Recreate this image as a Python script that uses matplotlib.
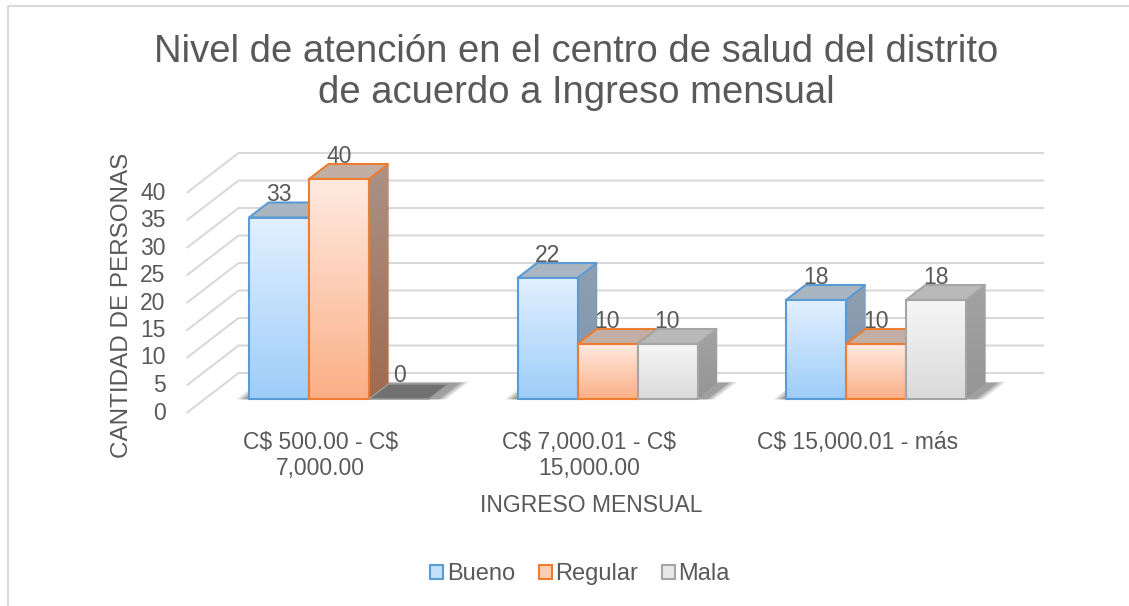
import numpy as np
import matplotlib
matplotlib.use('Agg')
import matplotlib.pyplot as plt
from matplotlib.patches import Polygon, Patch
from matplotlib.lines import Line2D
from matplotlib.colors import LinearSegmentedColormap

# data
categories = ['C$ 500.00 - C$\n7,000.00', 'C$ 7,000.01 - C$\n15,000.00', 'C$ 15,000.01 - más']
series = ['Bueno', 'Regular', 'Mala']
bueno = [33, 22, 18]
regular = [40, 10, 10]
mala = [0, 10, 18]
yticks = [0, 5, 10, 15, 20, 25, 30, 35, 40]

# face colours per series: front gradient, lid, side gradient, outline
styles = {
    'Bueno':   dict(top='#e2f0ff', bot='#9dcdf9', edge='#5b9bd5', lid='#a9b5c1',
                    s_top='#8f9fb0', s_bot='#7b96b1', leg='#c4e1fb'),
    'Regular': dict(top='#ffeae0', bot='#fbaf86', edge='#ed7d31', lid='#c2aea4',
                    s_top='#ab9288', s_bot='#9e6b50', leg='#fdcdb2'),
    'Mala':    dict(top='#f6f6f6', bot='#dadada', edge='#a5a5a5', lid='#b9b9b9',
                    s_top='#a3a3a3', s_bot='#959595', leg='#e8e8e8'),
}
zero_lid = '#717171'

TXT = '#595959'
GRID = '#d9d9d9'
plt.rcParams['font.family'] = ['Liberation Sans', 'DejaVu Sans']
plt.rcParams['text.parse_math'] = False
FS = 16.5

W, H = 1129, 606
PX_X, PX_Y = 268.5, 5.5          # pixels per category / per value unit
fig = plt.figure(figsize=(W / 100, H / 100), dpi=100)
ax = fig.add_axes([0, 0, 1, 1])
xlim = (-320.8 / PX_X, (W - 320.8) / PX_X)
ylim = (-(H - 413) / PX_Y, 413 / PX_Y)
ax.axis('off')

# oblique depth: t=0 front of floor, t=1 back wall
DX, DY = 52 / PX_X, 40 / PX_Y
TF, TB = 0.35, 0.725             # bar front / back depth
BW = 60 / PX_X
X0, X1 = -0.5, 2.5


def proj(x, v, t):
    return (x + DX * t, v + DY * t)


def grad_face(pts, c_top, c_bot, z):
    poly = Polygon(pts, closed=True, facecolor='none', edgecolor='none', zorder=z)
    ax.add_patch(poly)
    xs = [p[0] for p in pts]
    ys = [p[1] for p in pts]
    cmap = LinearSegmentedColormap.from_list('g', [c_bot, c_top])
    grad = np.linspace(0, 1, 256).reshape(-1, 1)
    im = ax.imshow(grad, cmap=cmap, origin='lower', aspect='auto',
                   extent=[min(xs), max(xs), min(ys), max(ys)],
                   zorder=z, interpolation='bilinear')
    im.set_clip_path(poly)


# walls: left side diagonals + back gridlines
for v in yticks:
    a = proj(X0, v, 0)
    b = proj(X0, v, 1)
    c = proj(X1, v, 1)
    ax.plot([a[0], b[0], c[0]], [a[1], b[1], c[1]], color=GRID, lw=1.5, zorder=1,
            solid_capstyle='butt')
    ax.text(a[0] - 21 / PX_X, v, str(v), ha='right', va='center', fontsize=FS, color=TXT)

values = {'Bueno': bueno, 'Regular': regular, 'Mala': mala}
z = 5
for gi, cat in enumerate(categories):
    # soft floor shadow under the group (a few feathered layers)
    for k, al in enumerate([0.18, 0.22, 0.3]):
        grow = (2 - k) * 0.012
        xl = gi - 1.5 * BW - 0.02 - grow
        xr = gi + 1.5 * BW + 0.04 + grow
        t0, t1 = TF - 0.01, TB + 0.03 + grow
        sh = [proj(xl, 0, t0), proj(xr, 0, t0), proj(xr, 0, t1), proj(xl, 0, t1)]
        ax.add_patch(Polygon(sh, closed=True, facecolor='#555555', edgecolor='none',
                             alpha=al, zorder=3))

    for si, name in enumerate(series):
        st = styles[name]
        v = values[name][gi]
        x0 = gi + (si - 1.5) * BW
        x1 = x0 + BW
        lid = [proj(x0, v, TF), proj(x1, v, TF), proj(x1, v, TB), proj(x0, v, TB)]
        if v == 0:
            ax.add_patch(Polygon(lid, closed=True, facecolor=zero_lid, edgecolor='#9a9a9a',
                                 lw=1.0, zorder=z))
        else:
            side = [proj(x1, 0, TF), proj(x1, 0, TB), proj(x1, v, TB), proj(x1, v, TF)]
            grad_face(side, st['s_top'], st['s_bot'], z)
            ax.add_patch(Polygon(side, closed=True, facecolor='none', edgecolor=st['edge'],
                                 lw=1.0, alpha=0.35, zorder=z + 0.1))
            ax.add_patch(Polygon(lid, closed=True, facecolor=st['lid'], edgecolor=st['edge'],
                                 lw=1.5, zorder=z + 0.2))
            front = [proj(x0, 0, TF), proj(x1, 0, TF), proj(x1, v, TF), proj(x0, v, TF)]
            grad_face(front, st['top'], st['bot'], z + 0.3)
            ax.add_patch(Polygon(front, closed=True, facecolor='none', edgecolor=st['edge'],
                                 lw=1.5, zorder=z + 0.4))
        lx = proj((x0 + x1) / 2, v, TF)[0]
        ly = proj(x0, v, TB)[1] + 1.5 / PX_Y
        ax.text(lx, ly, str(v), ha='center', va='baseline', fontsize=FS, color=TXT, zorder=50)
        z += 1

    ax.text(gi, -18 / PX_Y, cat, ha='center', va='top', fontsize=FS, color=TXT,
            linespacing=1.15)

ax.set_xlim(*xlim)
ax.set_ylim(*ylim)

# titles
fig.text(576 / W, 1 - 62 / H, 'Nivel de atención en el centro de salud del distrito',
         ha='center', va='baseline', fontsize=27.5, color=TXT)
fig.text(576 / W, 1 - 103 / H, 'de acuerdo a Ingreso mensual',
         ha='center', va='baseline', fontsize=27.5, color=TXT)
fig.text(122 / W, 1 - 305.5 / H, 'CANTIDAD DE PERSONAS', rotation=90,
         ha='center', va='center', fontsize=17.5, color=TXT)
fig.text(591.5 / W, 1 - 512 / H, 'INGRESO MENSUAL', ha='center', va='baseline',
         fontsize=FS, color=TXT)

handles = [Patch(facecolor=styles[s]['leg'], edgecolor=styles[s]['edge'], lw=1.5, label=s)
           for s in series]
leg = ax.legend(handles=handles, loc='center', bbox_to_anchor=(580 / W, 1 - 574 / H),
                bbox_transform=fig.transFigure, ncol=3, frameon=False,
                handlelength=0.55, handleheight=0.55, handletextpad=0.15,
                columnspacing=1.0, fontsize=17, labelcolor=TXT)

# chart border (left and top visible)
fig.add_artist(Line2D([8 / W, 8 / W, 1], [0, 1 - 6 / H, 1 - 6 / H],
                      transform=fig.transFigure, color=GRID, lw=1.5))

fig.savefig('out.png', dpi=100)
